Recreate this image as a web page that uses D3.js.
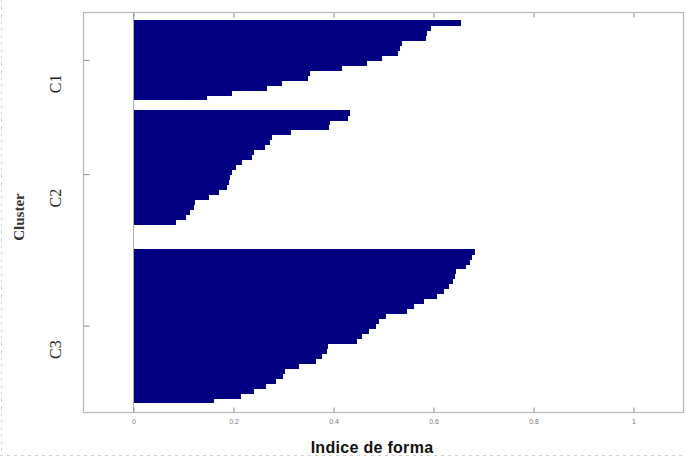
<!DOCTYPE html>
<html>
<head>
<meta charset="utf-8">
<script src="https://cdn.jsdelivr.net/npm/d3@7"></script>
<style>
  body { margin: 0; background: #fff; }
  svg { display: block; }
</style>
</head>
<body>
<div id="chart"></div>
<script>
// silhouette values, sorted high to low inside each cluster
var clusterNames = ["C1", "C2", "C3"];
var c1Values = [0.655, 0.594, 0.587, 0.585, 0.537, 0.532, 0.528, 0.497, 0.467, 0.417,
    0.352, 0.348, 0.297, 0.267, 0.197, 0.146];
var c2Values = [0.432, 0.429, 0.393, 0.391, 0.314, 0.276, 0.272, 0.262, 0.240, 0.236,
    0.216, 0.204, 0.196, 0.193, 0.190, 0.186, 0.171, 0.151, 0.123, 0.121,
    0.112, 0.104, 0.084, 0, 0, 0];
var c3Values = [0.682, 0.677, 0.672, 0.664, 0.645, 0.643, 0.639, 0.630, 0.620, 0.607,
    0.580, 0.560, 0.547, 0.504, 0.490, 0.484, 0.470, 0.457, 0.447, 0.388,
    0.386, 0.377, 0.364, 0.330, 0.302, 0.298, 0.284, 0.264, 0.240, 0.214, 0.160];
var xTicks = [0, 0.2, 0.4, 0.6, 0.8, 1];
var xTickLabels = ["0", "0.2", "0.4", "0.6", "0.8", "1"];

var svgWidth = 686;
var svgHeight = 458;
var plot = { left: 83.5, right: 683.5, top: 12.5, bottom: 412.5 };
var gapSlots = 2;

var svg = d3.select("#chart")
    .append("svg")
    .attr("width", svgWidth)
    .attr("height", svgHeight);

// lay out the bars cluster after cluster
var clusters = [c1Values, c2Values, c3Values];
var bars = [];
var centers = [];
var offset = 0;
clusters.forEach((vals, ci) => {
    vals.forEach((v, i) => bars.push({ slot: offset + i, value: v, cluster: ci, last: i === vals.length - 1 }));
    centers.push(offset + vals.length / 2);
    offset += vals.length + gapSlots;
});
var totalSlots = offset - gapSlots;

var xScale = d3.scaleLinear()
    .domain([-0.1, 1.1])
    .range([plot.left, plot.right]);

var yScale = d3.scaleLinear()
    .domain([-1.55, totalSlots + 2])
    .range([plot.top, plot.bottom]);

// faint dashed page border
svg.append("line")
    .attr("x1", 1.5).attr("x2", 1.5)
    .attr("y1", 0).attr("y2", 456)
    .attr("stroke", "#d0d0d0")
    .attr("stroke-dasharray", "3,4");
svg.append("line")
    .attr("x1", 0).attr("x2", svgWidth)
    .attr("y1", 455.5).attr("y2", 455.5)
    .attr("stroke", "#d0d0d0")
    .attr("stroke-dasharray", "3,4");

// bars (overlap a pixel so no seams show)
svg.append("g")
    .attr("shape-rendering", "crispEdges")
    .selectAll("rect")
    .data(bars)
    .enter()
    .append("rect")
    .attr("x", xScale(0))
    .attr("y", d => yScale(d.slot))
    .attr("width", d => xScale(d.value) - xScale(0))
    .attr("height", d => yScale(d.slot + 1) - yScale(d.slot) + (d.last ? 0 : 1))
    .attr("fill", "#000080");

// zero line
svg.append("line")
    .attr("x1", xScale(0)).attr("x2", xScale(0))
    .attr("y1", plot.top).attr("y2", plot.bottom)
    .attr("stroke", "#999")
    .attr("stroke-width", 0.8);

var bottomAxis = d3.axisBottom(xScale)
    .tickValues(xTicks)
    .tickFormat((d, i) => xTickLabels[i])
    .tickSizeInner(-5)
    .tickSizeOuter(0)
    .tickPadding(7);

var topAxis = d3.axisTop(xScale)
    .tickValues(xTicks)
    .tickFormat("")
    .tickSizeInner(-5)
    .tickSizeOuter(0);

var leftAxis = d3.axisLeft(yScale)
    .tickValues(centers)
    .tickFormat("")
    .tickSizeInner(-6)
    .tickSizeOuter(0);

var xAxisG = svg.append("g")
    .attr("transform", `translate(0, ${plot.bottom})`)
    .call(bottomAxis);
var topAxisG = svg.append("g")
    .attr("transform", `translate(0, ${plot.top})`)
    .call(topAxis);
var yAxisG = svg.append("g")
    .attr("transform", `translate(${plot.left}, 0)`)
    .call(leftAxis);

[xAxisG, topAxisG, yAxisG].forEach(g => {
    g.select(".domain").remove();
    g.selectAll(".tick line").attr("stroke", "#8a8a8a");
});
xAxisG.selectAll("text")
    .attr("font-family", "Liberation Sans, Arial, sans-serif")
    .attr("font-size", "7px")
    .attr("fill", "#777");

// box
svg.append("rect")
    .attr("x", plot.left)
    .attr("y", plot.top)
    .attr("width", plot.right - plot.left)
    .attr("height", plot.bottom - plot.top)
    .attr("fill", "none")
    .attr("stroke", "#b8b8b8")
    .attr("stroke-width", 1.2);

// cluster names
svg.append("g")
    .selectAll("text")
    .data(clusterNames)
    .enter()
    .append("text")
    .attr("transform", (d, i) => `translate(61, ${yScale(centers[i]) + 24}) rotate(-90)`)
    .attr("text-anchor", "middle")
    .attr("font-family", "Liberation Serif, Times New Roman, serif")
    .attr("font-size", "16px")
    .attr("fill", "#222")
    .text(d => d);

svg.append("text")
    .attr("transform", "translate(24, 217) rotate(-90)")
    .attr("text-anchor", "middle")
    .attr("font-family", "Liberation Serif, Times New Roman, serif")
    .attr("font-weight", "bold")
    .attr("font-size", "15px")
    .attr("fill", "#333")
    .text("Cluster");

svg.append("text")
    .attr("x", 372)
    .attr("y", 453)
    .attr("text-anchor", "middle")
    .attr("font-family", "Liberation Sans, Arial, sans-serif")
    .attr("font-weight", "bold")
    .attr("font-size", "16px")
    .attr("letter-spacing", "0.3px")
    .attr("fill", "#111")
    .text("Indice de forma");
</script>
</body>
</html>
